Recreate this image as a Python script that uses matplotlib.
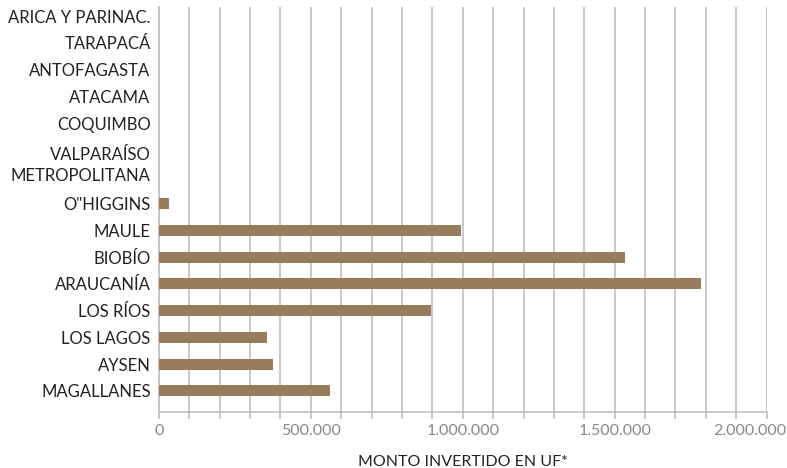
import matplotlib.pyplot as plt
import matplotlib.transforms as mtransforms
from matplotlib.ticker import MultipleLocator, FuncFormatter

regiones = ['ARICA Y PARINAC.', 'TARAPACÁ', 'ANTOFAGASTA', 'ATACAMA', 'COQUIMBO',
            'VALPARAÍSO', 'METROPOLITANA', 'O"HIGGINS', 'MAULE', 'BIOBÍO',
            'ARAUCANÍA', 'LOS RÍOS', 'LOS LAGOS', 'AYSEN', 'MAGALLANES']
monto = [0, 0, 0, 0, 0, 0, 0, 33000, 993000, 1533000, 1783000, 895000,
         355000, 375000, 563000]
xticks = [0, 500000, 1000000, 1500000, 2000000]

plt.rcParams['font.family'] = ['Lato', 'DejaVu Sans']

fig = plt.figure(figsize=(7.87, 4.68), dpi=100)
ax = fig.add_axes([0.202, 0.12, 0.772, 0.865])

pos = list(range(len(regiones)))
ax.barh(pos, monto, height=0.41, color='#977d5e', zorder=3)

ax.set_xlim(0, 2000000)
ax.set_ylim(14.78, -0.34)
ax.set_yticks(pos)
ax.set_yticklabels(regiones, fontsize=12, color='#222222')
ax.set_xticks(xticks)
ax.xaxis.set_minor_locator(MultipleLocator(100000))
ax.xaxis.set_major_formatter(FuncFormatter(lambda v, p: f'{int(v):,}'.replace(',', '.')))
ax.tick_params(axis='x', which='both', length=5, color='#bfbfbf', width=1.2,
               labelsize=11.5, labelcolor='#888888', pad=4)
ax.tick_params(axis='y', length=0, pad=6)
ax.grid(axis='x', which='both', color='#bfbfbf', linewidth=1.2, zorder=0)

# the two wrapped labels sit a bit apart in the original
labels = ax.get_yticklabels()
labels[5].set_transform(labels[5].get_transform() +
                        mtransforms.ScaledTranslation(0, -4 / 100, fig.dpi_scale_trans))
labels[6].set_transform(labels[6].get_transform() +
                        mtransforms.ScaledTranslation(0, 2 / 100, fig.dpi_scale_trans))

# keep the last tick label inside the figure
xl = ax.get_xticklabels()
xl[-1].set_horizontalalignment('right')
xl[-1].set_transform(xl[-1].get_transform() +
                     mtransforms.ScaledTranslation(20 / 100, 0, fig.dpi_scale_trans))

for s in ['top', 'right']:
    ax.spines[s].set_visible(False)
ax.spines['left'].set_color('#bfbfbf')
ax.spines['left'].set_linewidth(1.2)
ax.spines['bottom'].set_color('#bfbfbf')
ax.spines['bottom'].set_linewidth(1.2)

ax.set_xlabel('MONTO INVERTIDO EN UF*', fontsize=11.5, color='#222222', labelpad=12)

fig.savefig('out.png', dpi=100)
